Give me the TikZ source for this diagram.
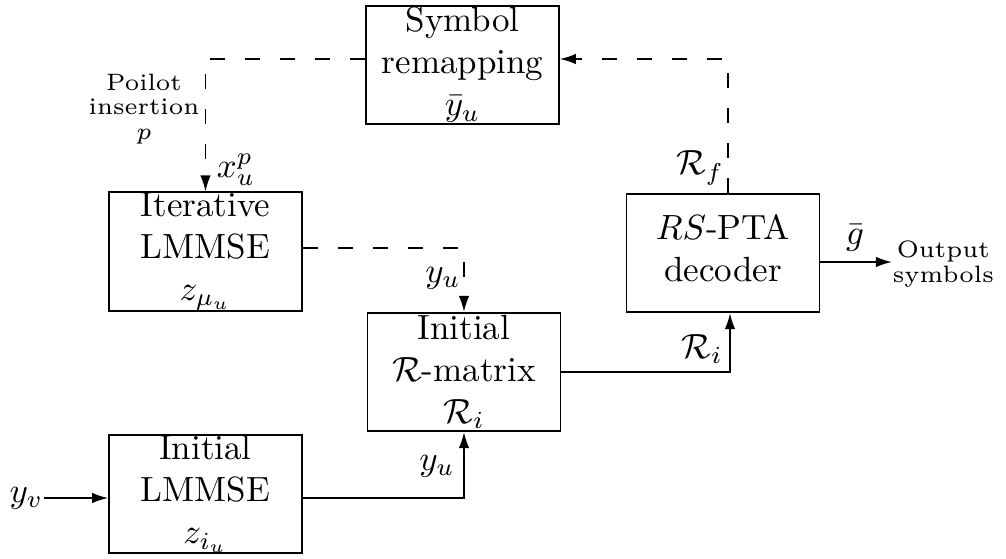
\documentclass[tikz,border=0pt]{standalone}
\usetikzlibrary{arrows.meta,calc}
\begin{document}
\begin{tikzpicture}[x=0.285714pt,y=-0.285714pt,
  box/.style={draw,line width=0.5pt,minimum width=55.1pt,minimum height=33.8pt,inner sep=0pt,align=center,font=\fontsize{10}{12}\selectfont},
  lbl/.style={inner sep=0pt,font=\fontsize{10}{12}\selectfont},
  small/.style={inner sep=0pt,align=center,transform shape,scale=1.13,font=\fontsize{6}{6.3}\selectfont},
  dsh/.style={dash pattern=on 4.3pt off 5.7pt},
  arr/.style={line width=0.5pt,-{Latex[length=4.6pt,width=3pt]}}]
\useasboundingbox (0,0) rectangle (1006,559);
% boxes
\node[box] (remap) at (462.5,65) {Symbol\\remapping\\$\bar{y}_u$};
\node[box] (iter) at (205.5,251.5) {Iterative\\LMMSE\\$z_{\mu_u}$};
\node[box] (rmat) at (464,372) {Initial\\$\mathcal{R}$-matrix\\$\mathcal{R}_i$};
\node[box] (rspta) at (723,253) {$RS$-PTA\\decoder\rule[-3pt]{0pt}{0pt}};
\node[box] (initl) at (205.5,494) {Initial\\LMMSE\\$z_{i_u}$};
% input
\node[lbl,anchor=east] (yv) at (44,498) {$y_v$};
\draw[arr] (yv.east) -- (yv.east -| initl.west);
% initial LMMSE -> R-matrix
\draw[arr] ($(initl.east)+(0,4)$) -| (rmat.south);
\node[lbl] (lyu2) at (437,466) {$y_u$};
% R-matrix -> RS-PTA
\coordinate (rsin) at ($(rspta.south)+(7,0)$);
\draw[arr] (rmat.east) -| (rsin);
\node[lbl] (lri) at (702,349) {$\mathcal{R}_i$};
% output
\node[small,anchor=west] (out) at (892,264) {Output\\symbols};
\coordinate (gout) at ($(rspta.east)+(0,9)$);
\draw[arr] (gout) -- (gout -| out.west);
\node[lbl] (lg) at (855,238) {$\bar{g}$};
% feedback RS-PTA -> remapping
\coordinate (rsout) at ($(rspta.north)+(5,0)$);
\draw[dsh,arr] (rsout) |- ($(remap.east)+(0,-6)$);
\node[lbl] (lrf) at (700,168) {$\mathcal{R}_f$};
% remapping -> iterative
\draw[dsh,arr] ($(remap.west)+(0,-6)$) -| (iter.north);
\node[small] (pil) at (144,109) {Poilot\\insertion\\$p$};
\node[lbl] (lxp) at (236,170) {$x_u^p$};
% iterative -> R-matrix
\draw[dsh,arr] ($(iter.east)+(0,-3.5)$) -| (rmat.north);
\node[lbl] (lyu1) at (443,278) {$y_u$};
\end{tikzpicture}
\end{document}
